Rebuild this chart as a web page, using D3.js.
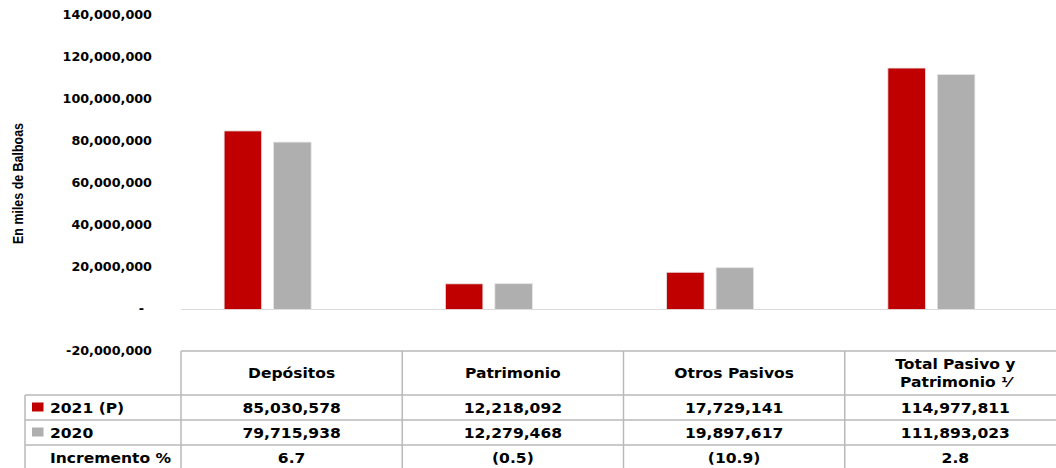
<!DOCTYPE html>
<html>
<head>
<meta charset="utf-8">
<script src="https://cdn.jsdelivr.net/npm/d3@7"></script>
<style>
  body { margin: 0; background: #fff; }
  svg { display: block; }
  text { font-family: 'DejaVu Sans', Verdana, sans-serif; font-weight: bold; fill: #000; }
  .ytitle { font-family: 'Liberation Sans', Arial, sans-serif; }
</style>
</head>
<body>
<svg class="chartContainer" width="1056" height="468" viewBox="0 0 1056 468"></svg>
<script>
const categories = ['Depósitos', 'Patrimonio', 'Otros Pasivos', 'Total Pasivo y Patrimonio ⅟']
const headerLines = [['Depósitos'], ['Patrimonio'], ['Otros Pasivos'], ['Total Pasivo y', 'Patrimonio ⅟']]
const seriesNames = ['2021 (P)', '2020']
const values2021 = [85030578, 12218092, 17729141, 114977811]
const values2020 = [79715938, 12279468, 19897617, 111893023]
const increments = ['6.7', '(0.5)', '(10.9)', '2.8']
const yTicks = [-20000000, 0, 20000000, 40000000, 60000000, 80000000, 100000000, 120000000, 140000000]
const colors = ['#c00000', '#afafb0']

const series = [values2021, values2020]
const stretch = 'scale(1.11,1)'

const svg = d3.select('svg.chartContainer')

const y = d3.scaleLinear()
  .domain([-20000000, 140000000])
  .range([351.5, 15.5])

// bars sit a little left of the table columns, as in the original
const xBars = d3.scaleBand().domain(categories).range([157, 1042])
const xSeries = d3.scaleBand().domain(seriesNames)
  .range([0, xBars.bandwidth()])
  .paddingInner(0.242)
  .paddingOuter(1.356)
const xTable = d3.scaleBand().domain(categories).range([181, 1066])

// y axis labels (plain hyphen for negatives, '-' for zero)
const fmt = d3.format(',')
const tickFmt = d => d === 0 ? '-' : fmt(d).replace('\u2212', '-')
svg.append('g')
  .selectAll('text')
  .data(yTicks)
  .join('text')
  .attr('transform', d => `translate(${d === 0 ? 144 : 152},${y(d)}) ${stretch}`)
  .attr('text-anchor', 'end')
  .attr('dominant-baseline', 'central')
  .style('font-size', '11.5px')
  .text(tickFmt)

svg.append('text')
  .attr('class', 'ytitle')
  .attr('transform', `translate(18,${y(60000000)}) rotate(-90) scale(0.83,1)`)
  .attr('text-anchor', 'middle')
  .attr('dominant-baseline', 'central')
  .style('font-size', '15px')
  .text('En miles de Balboas')

// zero line
svg.append('line')
  .attr('x1', 181).attr('x2', 1056)
  .attr('y1', y(0)).attr('y2', y(0))
  .attr('stroke', '#d9d9d9')
  .attr('stroke-width', 1.2)

// bars
const groups = svg.append('g')
  .selectAll('g')
  .data(seriesNames)
  .join('g')
  .attr('fill', (d, i) => colors[i])

groups.selectAll('rect')
  .data((s, i) => categories.map((c, j) => ({ c, s, v: series[i][j] })))
  .join('rect')
  .attr('x', d => xBars(d.c) + xSeries(d.s))
  .attr('width', xSeries.bandwidth())
  .attr('y', d => y(d.v))
  .attr('height', d => y(0) - y(d.v))
  .attr('stroke', '#e4e4e4')
  .attr('stroke-width', 0.8)

// data table
const rowTop = [395, 420, 445]
const rowH = 25
const tableLeft = 25
const tableRight = 1066
const tableBottom = 470
const lineColor = '#b9b9b9'
const tbl = svg.append('g')

tbl.append('line')
  .attr('x1', 181).attr('x2', tableRight)
  .attr('y1', 351).attr('y2', 351)
  .attr('stroke', lineColor).attr('stroke-width', 1.5)

tbl.selectAll('line.h')
  .data(rowTop)
  .join('line')
  .attr('class', 'h')
  .attr('x1', tableLeft).attr('x2', tableRight)
  .attr('y1', d => d).attr('y2', d => d)
  .attr('stroke', lineColor).attr('stroke-width', 1.5)

tbl.append('line')
  .attr('x1', tableLeft).attr('x2', tableLeft)
  .attr('y1', rowTop[0]).attr('y2', tableBottom)
  .attr('stroke', lineColor).attr('stroke-width', 1.5)

tbl.selectAll('line.v')
  .data(categories)
  .join('line')
  .attr('class', 'v')
  .attr('x1', d => xTable(d)).attr('x2', d => xTable(d))
  .attr('y1', 351).attr('y2', tableBottom)
  .attr('stroke', lineColor).attr('stroke-width', 1.5)

// header
tbl.selectAll('g.head')
  .data(categories)
  .join('g')
  .attr('class', 'head')
  .each(function (c, i) {
    const lines = headerLines[i]
    const cx = xTable(c) + xTable.bandwidth() / 2
    d3.select(this).selectAll('text')
      .data(lines)
      .join('text')
      .attr('transform', (t, k) => `translate(${cx},${lines.length === 1 ? 373 : 363.5 + k * 18}) ${stretch}`)
      .attr('text-anchor', 'middle')
      .attr('dominant-baseline', 'central')
      .style('font-size', '14px')
      .text(t => t)
  })

// rows
const rows = [...series.map(s => s.map(fmt)), increments]
const rowNames = [...seriesNames, 'Incremento %']

rows.forEach((r, i) => {
  const cy = rowTop[i] + rowH / 2
  tbl.append('text')
    .attr('transform', `translate(50,${cy}) ${stretch}`)
    .attr('dominant-baseline', 'central')
    .style('font-size', '14px')
    .text(rowNames[i])
  if (i < colors.length) {
    tbl.append('rect')
      .attr('x', 32).attr('y', cy - 5)
      .attr('width', 11.5).attr('height', 9)
      .attr('fill', colors[i])
  }
  tbl.selectAll(null)
    .data(r)
    .join('text')
    .attr('transform', (t, j) => `translate(${xTable(categories[j]) + xTable.bandwidth() / 2},${cy}) ${stretch}`)
    .attr('text-anchor', 'middle')
    .attr('dominant-baseline', 'central')
    .style('font-size', '14px')
    .text(t => t)
})
</script>
</body>
</html>
